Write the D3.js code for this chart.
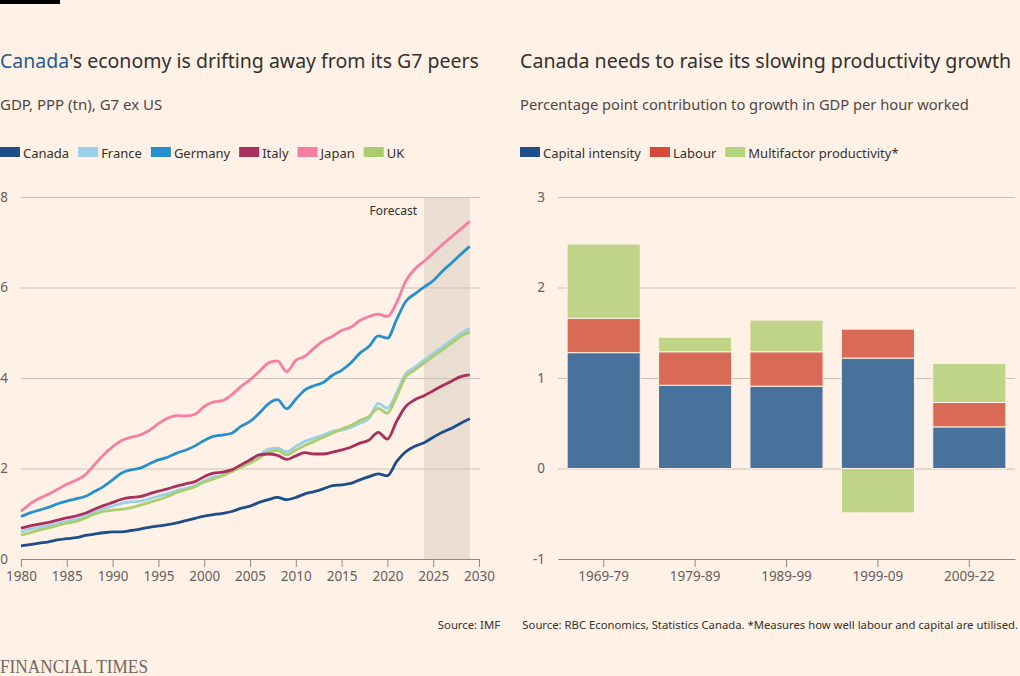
<!DOCTYPE html>
<html>
<head>
<meta charset="utf-8">
<script src="https://cdn.jsdelivr.net/npm/d3@7"></script>
<style>
    body { margin: 0; background: #fff1e5; }
    svg { display: block; font-family: 'Noto Sans', sans-serif; }
</style>
</head>
<body>
<svg id="chart" width="1020" height="676"></svg>
<script>

// left chart: GDP, PPP (tn), 1980-2029
var years = d3.range(1980, 2030);
var canada = [0.29, 0.32, 0.35, 0.38, 0.42, 0.45, 0.47, 0.52, 0.55, 0.58, 0.60, 0.60, 0.63, 0.66, 0.70, 0.73, 0.76, 0.80, 0.85, 0.90, 0.95, 0.98, 1.01, 1.05, 1.12,
    1.17, 1.25, 1.31, 1.36, 1.31, 1.36, 1.44, 1.49, 1.55, 1.62, 1.64, 1.67, 1.75, 1.82, 1.88, 1.84, 2.15, 2.37, 2.49, 2.57, 2.69, 2.80, 2.89, 3.00, 3.10];
var france = [0.60, 0.66, 0.70, 0.74, 0.79, 0.83, 0.88, 0.94, 1.03, 1.11, 1.17, 1.23, 1.26, 1.28, 1.33, 1.39, 1.44, 1.51, 1.56, 1.62, 1.73, 1.81, 1.85, 1.94, 2.04,
    2.15, 2.28, 2.43, 2.45, 2.37, 2.49, 2.60, 2.67, 2.74, 2.82, 2.85, 2.91, 3.00, 3.11, 3.44, 3.33, 3.67, 4.09, 4.24, 4.39, 4.54, 4.68, 4.83, 4.98, 5.10];
var germany = [0.94, 1.02, 1.08, 1.14, 1.22, 1.28, 1.33, 1.38, 1.49, 1.60, 1.75, 1.90, 1.97, 2.01, 2.10, 2.19, 2.25, 2.34, 2.41, 2.50, 2.62, 2.71, 2.74, 2.78, 2.93,
    3.04, 3.22, 3.43, 3.52, 3.32, 3.53, 3.74, 3.83, 3.90, 4.06, 4.17, 4.33, 4.55, 4.70, 4.93, 4.88, 5.29, 5.69, 5.86, 6.01, 6.15, 6.36, 6.54, 6.73, 6.91];
var italy = [0.68, 0.73, 0.77, 0.81, 0.86, 0.91, 0.95, 1.01, 1.10, 1.18, 1.25, 1.32, 1.36, 1.38, 1.44, 1.50, 1.55, 1.61, 1.66, 1.71, 1.82, 1.90, 1.92, 1.97, 2.08,
    2.19, 2.30, 2.32, 2.29, 2.20, 2.28, 2.35, 2.32, 2.32, 2.36, 2.41, 2.47, 2.56, 2.63, 2.80, 2.65, 3.04, 3.37, 3.52, 3.61, 3.72, 3.83, 3.93, 4.03, 4.07];
var japan = [1.05, 1.22, 1.34, 1.43, 1.54, 1.65, 1.74, 1.86, 2.08, 2.30, 2.48, 2.62, 2.69, 2.74, 2.84, 2.99, 3.11, 3.17, 3.16, 3.20, 3.37, 3.47, 3.50, 3.63, 3.81,
    3.96, 4.14, 4.33, 4.38, 4.14, 4.39, 4.48, 4.66, 4.82, 4.92, 5.05, 5.12, 5.27, 5.36, 5.41, 5.36, 5.66, 6.14, 6.41, 6.58, 6.76, 6.95, 7.12, 7.29, 7.46];
var uk = [0.53, 0.58, 0.64, 0.69, 0.74, 0.79, 0.83, 0.90, 0.99, 1.05, 1.08, 1.10, 1.13, 1.19, 1.25, 1.31, 1.38, 1.47, 1.53, 1.60, 1.70, 1.77, 1.84, 1.93, 2.03,
    2.12, 2.23, 2.36, 2.40, 2.30, 2.41, 2.51, 2.60, 2.69, 2.78, 2.87, 2.95, 3.06, 3.15, 3.33, 3.22, 3.59, 4.03, 4.18, 4.33, 4.48, 4.62, 4.77, 4.92, 5.02];
var countries = ["Canada", "France", "Germany", "Italy", "Japan", "UK"];
var countryColors = ["#1e4e8a", "#9bd0e8", "#2590cd", "#a8305f", "#f57ea3", "#aacd6e"];
var forecastStart = 2024, forecastEnd = 2029;
var gdpTicks = [0, 2, 4, 6, 8];
var yearTicks = d3.range(1980, 2031, 5);

// right chart: contribution to growth in GDP per hour worked
var periods = ["1969-79", "1979-89", "1989-99", "1999-09", "2009-22"];
var capital = [1.28, 0.92, 0.91, 1.22, 0.46];
var labour = [0.38, 0.37, 0.38, 0.32, 0.27];
var mfp = [0.82, 0.16, 0.35, -0.49, 0.43];
var components = ["Capital intensity", "Labour", "Multifactor productivity*"];
var barColors = ["#48729c", "#d96a56", "#bfd487"];
var keyColors = ["#1d4f8b", "#d5493c", "#b4d57e"];
var pointTicks = [-1, 0, 1, 2, 3];

var svg = d3.select("#chart");
var ink = "#33302e", grey = "#66605c", grid = "#cbc1b7", axisInk = "#8f8983";

svg.append("rect").attr("width", 1020).attr("height", 676).attr("fill", "#fff1e5");
svg.append("rect").attr("width", 60).attr("height", 4).attr("fill", "#000");

function legend(x, y, names, colors) {
    var g = svg.append("g").attr("transform", "translate(" + x + "," + y + ")");
    var cx = 0;
    names.forEach(function (n, i) {
        g.append("rect").attr("x", cx).attr("y", -6).attr("width", 20).attr("height", 10)
            .attr("fill", colors[i]);
        var t = g.append("text").attr("x", cx + 23).attr("y", 4.5)
            .attr("font-size", 13).attr("fill", ink).text(n);
        cx += 23 + t.node().getComputedTextLength() + 9;
    });
}

function styleTicks(g) {
    g.selectAll("text").attr("font-size", 13.5).attr("fill", grey)
        .attr("font-family", "'Noto Sans', sans-serif");
}

// ---------- left chart ----------
var title = svg.append("text").attr("x", 0).attr("y", 68).attr("font-size", 19.5).attr("fill", ink);
title.append("tspan").attr("fill", "#245b91").text("Canada");
title.append("tspan").text("'s economy is drifting away from its G7 peers");
svg.append("text").attr("x", 0).attr("y", 110).attr("font-size", 15).attr("fill", "#4d4845")
    .text("GDP, PPP (tn), G7 ex US");
legend(0, 153, countries, countryColors);

var x = d3.scaleLinear().domain([1980, 2030]).range([21, 479]);
var y = d3.scaleLinear().domain([0, 8]).range([559, 197]);

svg.append("rect")
    .attr("x", x(forecastStart)).attr("y", y(8))
    .attr("width", x(forecastEnd) - x(forecastStart)).attr("height", y(0) - y(8))
    .attr("fill", "#eaded3");
svg.append("text").attr("x", x(forecastStart) - 7).attr("y", 215)
    .attr("text-anchor", "end").attr("font-size", 12).attr("fill", ink).text("Forecast");

var yAxisL = svg.append("g").attr("transform", "translate(480,0)")
    .call(d3.axisLeft(y).tickValues(gdpTicks).tickSize(459).tickPadding(13));
yAxisL.select(".domain").remove();
yAxisL.selectAll("line").attr("stroke", grid);
styleTicks(yAxisL);

var series = [canada, france, germany, italy, japan, uk];
var line = d3.line()
    .x(function (d, i) { return x(years[i]); })
    .y(function (d) { return y(d); })
    .curve(d3.curveMonotoneX);
// draw in an order that keeps Canada and the key lines on top
[1, 5, 3, 4, 2, 0].forEach(function (k) {
    svg.append("path").datum(series[k]).attr("d", line)
        .attr("fill", "none").attr("stroke", countryColors[k])
        .attr("stroke-width", 2.8).attr("stroke-linejoin", "round");
});

var xAxisL = svg.append("g").attr("transform", "translate(0,559)")
    .call(d3.axisBottom(x).tickValues(yearTicks).tickFormat(d3.format("d")).tickSize(8).tickSizeOuter(0).tickPadding(4));
xAxisL.selectAll("line, path").attr("stroke", axisInk);
styleTicks(xAxisL);

// ---------- right chart ----------
svg.append("text").attr("x", 520).attr("y", 68).attr("font-size", 19.6).attr("fill", ink)
    .text("Canada needs to raise its slowing productivity growth");
svg.append("text").attr("x", 520).attr("y", 110).attr("font-size", 14.7).attr("fill", "#4d4845")
    .text("Percentage point contribution to growth in GDP per hour worked");
legend(520, 153, components, keyColors);

var xb = d3.scaleBand().domain(periods).range([558, 1015]).paddingInner(0.2).paddingOuter(0.1);
var yb = d3.scaleLinear().domain([-1, 3]).range([559, 197]);

var yAxisR = svg.append("g").attr("transform", "translate(1015,0)")
    .call(d3.axisLeft(yb).tickValues(pointTicks).tickFormat(function (d) { return String(d); })
        .tickSize(457).tickPadding(13));
yAxisR.select(".domain").remove();
yAxisR.selectAll("line").attr("stroke", grid);
styleTicks(yAxisR);

var rows = periods.map(function (p, i) {
    return { period: p, capital: capital[i], labour: labour[i], mfp: mfp[i] };
});
var stacked = d3.stack().keys(["capital", "labour", "mfp"]).offset(d3.stackOffsetDiverging)(rows);

svg.append("g").selectAll("g").data(stacked).enter().append("g")
    .attr("fill", function (d, i) { return barColors[i]; })
    .selectAll("rect").data(function (d) { return d; }).enter().append("rect")
    .attr("x", function (d) { return xb(d.data.period); })
    .attr("width", xb.bandwidth())
    .attr("y", function (d) { return yb(d[1]); })
    .attr("height", function (d) { return yb(d[0]) - yb(d[1]); })
    .attr("stroke", "#fff1e5").attr("stroke-width", 1);

var xAxisR = svg.append("g").attr("transform", "translate(0,559)")
    .call(d3.axisBottom(xb).tickSize(8).tickSizeOuter(0).tickPadding(4));
xAxisR.selectAll("line, path").attr("stroke", axisInk);
styleTicks(xAxisR);

// ---------- footer ----------
svg.append("text").attr("x", 500).attr("y", 629).attr("text-anchor", "end")
    .attr("font-size", 11.3).attr("fill", ink).text("Source: IMF");
svg.append("text").attr("x", 1018).attr("y", 629).attr("text-anchor", "end")
    .attr("font-size", 11.3).attr("fill", ink)
    .text("Source: RBC Economics, Statistics Canada. *Measures how well labour and capital are utilised.");
svg.append("text").attr("x", 0).attr("y", 673).attr("font-size", 18).attr("fill", "#6e6862")
    .attr("font-family", "'Liberation Serif', 'DejaVu Serif', serif")
    .attr("textLength", 148).attr("lengthAdjust", "spacingAndGlyphs")
    .text("FINANCIAL TIMES");

</script>
</body>
</html>
